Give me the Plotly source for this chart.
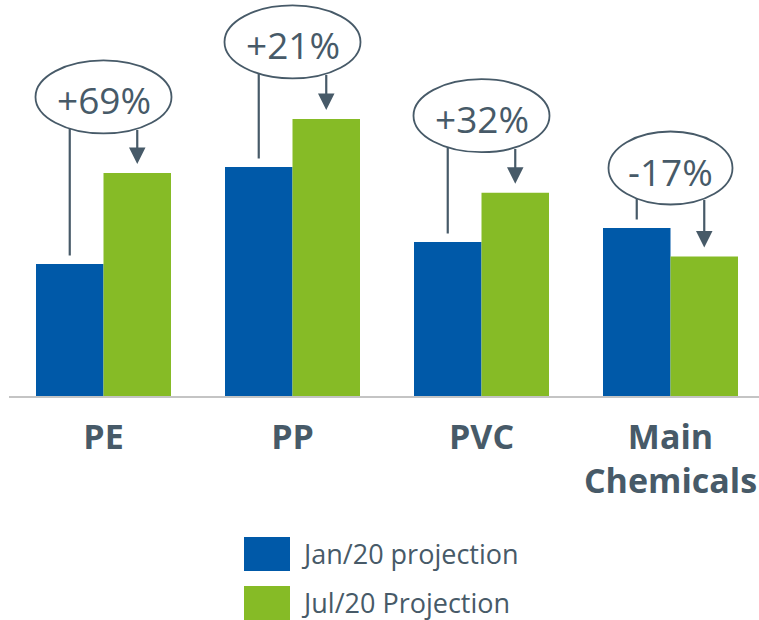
import math
import plotly.graph_objects as go

# ---- data -------------------------------------------------------------
categories = ["PE", "PP", "PVC", "Main<br>Chemicals"]
jan_projection = [132, 229, 154, 168]          # Jan/20 projection (index)
change_pct = [69, 21, 32, -17]                 # change Jan -> Jul, %
jul_projection = [j * (1 + c / 100) for j, c in zip(jan_projection, change_pct)]
series_names = ["Jan/20 projection", "Jul/20 Projection"]

# ---- styling / layout constants ---------------------------------------
W, H = 759, 620
ML, MR, MT, MB = 9, 0, 0, 224
BLUE = "#0059A8"
GREEN = "#86BB26"
INK = "#475A68"
FONT = "Open Sans"

plot_w = W - ML - MR
plot_h = H - MT - MB
CAT_PX = 189                       # pixels per category slot
x_lo = -0.5
x_hi = x_lo + plot_w / CAT_PX
Y_TOP = 396
PX_X = CAT_PX
PX_Y = plot_h / Y_TOP

BARGAP = 54 / CAT_PX
bar_w = (1 - BARGAP) / 2
off = bar_w / 2                    # bar centre offset from category centre

callout_lift = [76, 77, 77, 60]    # ellipse centre above taller bar (px)
callout_rx = [68, 68, 68, 62]
callout_ry = 36.5
gap_px = 8.5

fig = go.Figure()
fig.add_trace(go.Bar(x=list(range(len(categories))), y=jan_projection,
                     name=series_names[0], marker=dict(color=BLUE, line=dict(width=0))))
fig.add_trace(go.Bar(x=list(range(len(categories))), y=jul_projection,
                     name=series_names[1], marker=dict(color=GREEN, line=dict(width=0))))

shapes = []
annotations = []
for i, (j, k, c) in enumerate(zip(jan_projection, jul_projection, change_pct)):
    top = max(j, k)
    cy = top + callout_lift[i] / PX_Y
    rx, ry = callout_rx[i], callout_ry
    shapes.append(dict(type="circle", xref="x", yref="y",
                       x0=i - rx / PX_X, x1=i + rx / PX_X,
                       y0=cy - ry / PX_Y, y1=cy + ry / PX_Y,
                       line=dict(color=INK, width=1.8), fillcolor="rgba(0,0,0,0)"))
    dx = off * PX_X
    dy = ry * math.sqrt(max(0.0, 1 - (dx / rx) ** 2))
    edge = cy - dy / PX_Y
    # leader from the Jan bar up to the callout
    shapes.append(dict(type="line", xref="x", yref="y",
                       x0=i - off, x1=i - off, y0=j + gap_px / PX_Y, y1=edge,
                       line=dict(color=INK, width=2.2)))
    # arrow from the callout down to the Jul bar
    annotations.append(dict(x=i + off, y=k + (gap_px + 0.5) / PX_Y,
                            ax=i + off, ay=edge, xref="x", yref="y",
                            axref="x", ayref="y", text="", showarrow=True,
                            arrowhead=2, arrowsize=1.5, arrowwidth=2.2,
                            arrowcolor=INK, standoff=0))
    annotations.append(dict(x=i, y=cy, xref="x", yref="y", text=f"{c:+d}%",
                            showarrow=False, yshift=-3,
                            font=dict(family=FONT, size=37, color=INK)))

# legend drawn as swatches + labels under the plot
def xp(px):
    return (px - ML) / plot_w

def yp(py):
    return (MT + plot_h - py) / plot_h

legend_rows = [(BLUE, series_names[0], 537, 571), (GREEN, series_names[1], 586, 620)]
for color, label, top_px, bot_px in legend_rows:
    shapes.append(dict(type="rect", xref="paper", yref="paper",
                       x0=xp(244), x1=xp(290), y0=yp(bot_px), y1=yp(top_px),
                       fillcolor=color, line=dict(width=0)))
    annotations.append(dict(x=xp(299), y=yp((top_px + 33 / 2 + top_px) / 2 + 8),
                            xref="paper", yref="paper", text=label,
                            showarrow=False, xanchor="left", yanchor="middle",
                            font=dict(family=FONT, size=27, color=INK)))

fig.update_layout(
    width=W, height=H,
    margin=dict(l=ML, r=MR, t=MT, b=MB),
    paper_bgcolor="white", plot_bgcolor="white",
    barmode="group", bargap=BARGAP, bargroupgap=0,
    showlegend=False,
    shapes=shapes, annotations=annotations,
    xaxis=dict(range=[x_lo, x_hi], tickmode="array",
               tickvals=list(range(len(categories))), ticktext=categories,
               tickfont=dict(family=FONT, size=34, color=INK, weight="bold"),
               showline=True, linecolor="#C4C4C4", linewidth=2,
               showgrid=False, zeroline=False, ticks="", ticklabelstandoff=10),
    yaxis=dict(range=[0, Y_TOP], visible=False, showgrid=False, zeroline=False),
)

fig.write_html("out.html")
